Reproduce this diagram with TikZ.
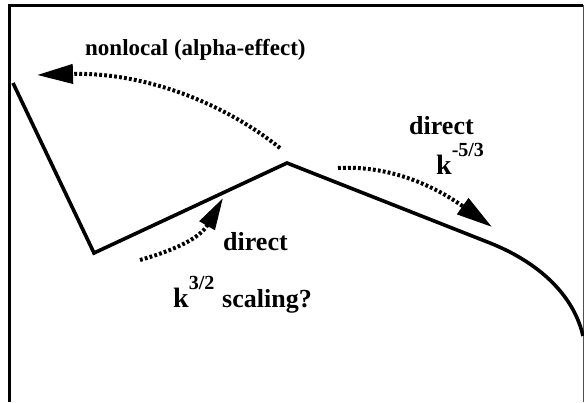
\documentclass[tikz,border=0pt]{standalone}
\usepackage{fontspec}
\setmainfont{Liberation Serif}
\usetikzlibrary{arrows.meta}

\tikzset{
  flux/.style={line width=4pt, dash pattern=on 2.8pt off 2.2pt,
    -{Triangle[length=36pt,width=19pt]}},
  lbl/.style={anchor=base west, inner sep=0pt, font=\fontsize{26}{30}\selectfont\bfseries},
}
\newcommand{\pw}[1]{{\fontsize{28}{30}\selectfont k}\raisebox{18pt}{\fontsize{20}{22}\selectfont #1}}

\begin{document}
\begin{tikzpicture}[x=1pt,y=1pt,yscale=-1,xscale=1]
\useasboundingbox (0,0) rectangle (584,402);

%Frame
\draw [line width=3pt] (9.5,402) -- (9.5,5.5) -- (583,5.5) ;
\draw [line width=1pt, color={rgb, 255:red, 80; green, 80; blue, 80 }] (583,5) -- (583,402) ;

%Spectrum
\coordinate (top) at (13,83);
\coordinate (dip) at (94,253);
\coordinate (peak) at (287,163);
\coordinate (knee) at (490,243);
\coordinate (tail) at (583,336);
\draw [line width=3.6pt, line join=miter] (top) -- (dip) -- (peak) -- (knee) .. controls (545,265) and (575,300) .. (tail) ;

%Curve Lines
\coordinate (nl0) at (280,148);
\coordinate (nl1) at (37,75);
\draw [flux] (nl0) .. controls (220,100) and (140,72) .. (nl1) ;
\coordinate (dr0) at (338,168);
\coordinate (dr1) at (492,227);
\draw [flux] (dr0) .. controls (395,165) and (440,190) .. (dr1) ;
\coordinate (dl0) at (140,260);
\coordinate (dl1) at (223,198);
\draw [flux, -{Triangle[length=32pt,width=17pt]}] (dl0) .. controls (175,250) and (200,238) .. (dl1) ;

% Text Node
\node [lbl, font=\fontsize{23}{26}\selectfont\bfseries] (nonlocal) at (85,55) {nonlocal (alpha-effect)};
% Text Node
\node [lbl] (direct1) at (409,134) {direct};
% Text Node
\node [lbl] (slope1) at (436,174) {\pw{-5/3}};
% Text Node
\node [lbl] (direct2) at (223,250) {direct};
% Text Node
\node [lbl] (slope2) at (173,307) {\pw{3/2}};
% Text Node
\node [lbl] (scaling) at (222,307) {scaling?};

\end{tikzpicture}
\end{document}
